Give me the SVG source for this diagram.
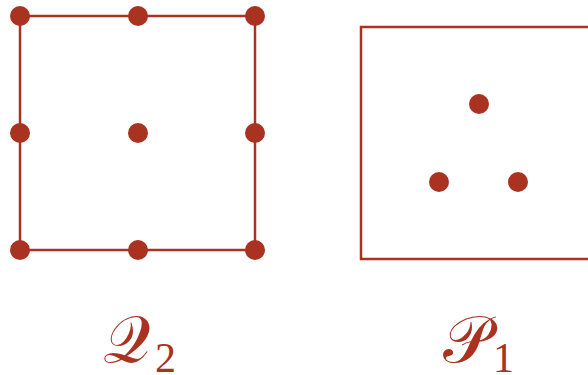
<svg xmlns="http://www.w3.org/2000/svg" width="588" height="375" viewBox="0 0 588 375">
<style>
.edge{fill:none;stroke:#A93220;stroke-width:2.5}
.dot{fill:#A93220}
.lbl{fill:#A93220;font-family:"DejaVu Serif","Liberation Serif",serif}
.sub{fill:#A93220;font-family:"Liberation Serif",serif}
</style>
<g id="q2">
<rect class="edge" x="20" y="16" width="235" height="234"/>
<circle class="dot" cx="20" cy="16" r="10"/>
<circle class="dot" cx="138" cy="16" r="10"/>
<circle class="dot" cx="255" cy="16" r="10"/>
<circle class="dot" cx="20" cy="133" r="10"/>
<circle class="dot" cx="138" cy="133" r="10"/>
<circle class="dot" cx="255" cy="133" r="10"/>
<circle class="dot" cx="20" cy="250" r="10"/>
<circle class="dot" cx="138" cy="250" r="10"/>
<circle class="dot" cx="255" cy="250" r="10"/>
</g>
<g id="p1">
<rect class="edge" x="361" y="27" width="240" height="232"/>
<circle class="dot" cx="479" cy="104" r="10"/>
<circle class="dot" cx="439" cy="182" r="10"/>
<circle class="dot" cx="518" cy="182" r="10"/>
</g>
<g id="labels">
<text class="lbl" x="103" y="362" font-size="66">𝒬</text>
<text class="sub" x="155" y="372" font-size="42">2</text>
<text class="lbl" x="443" y="362" font-size="66">𝒫</text>
<text class="sub" x="493" y="372" font-size="42">1</text>
</g>
</svg>
